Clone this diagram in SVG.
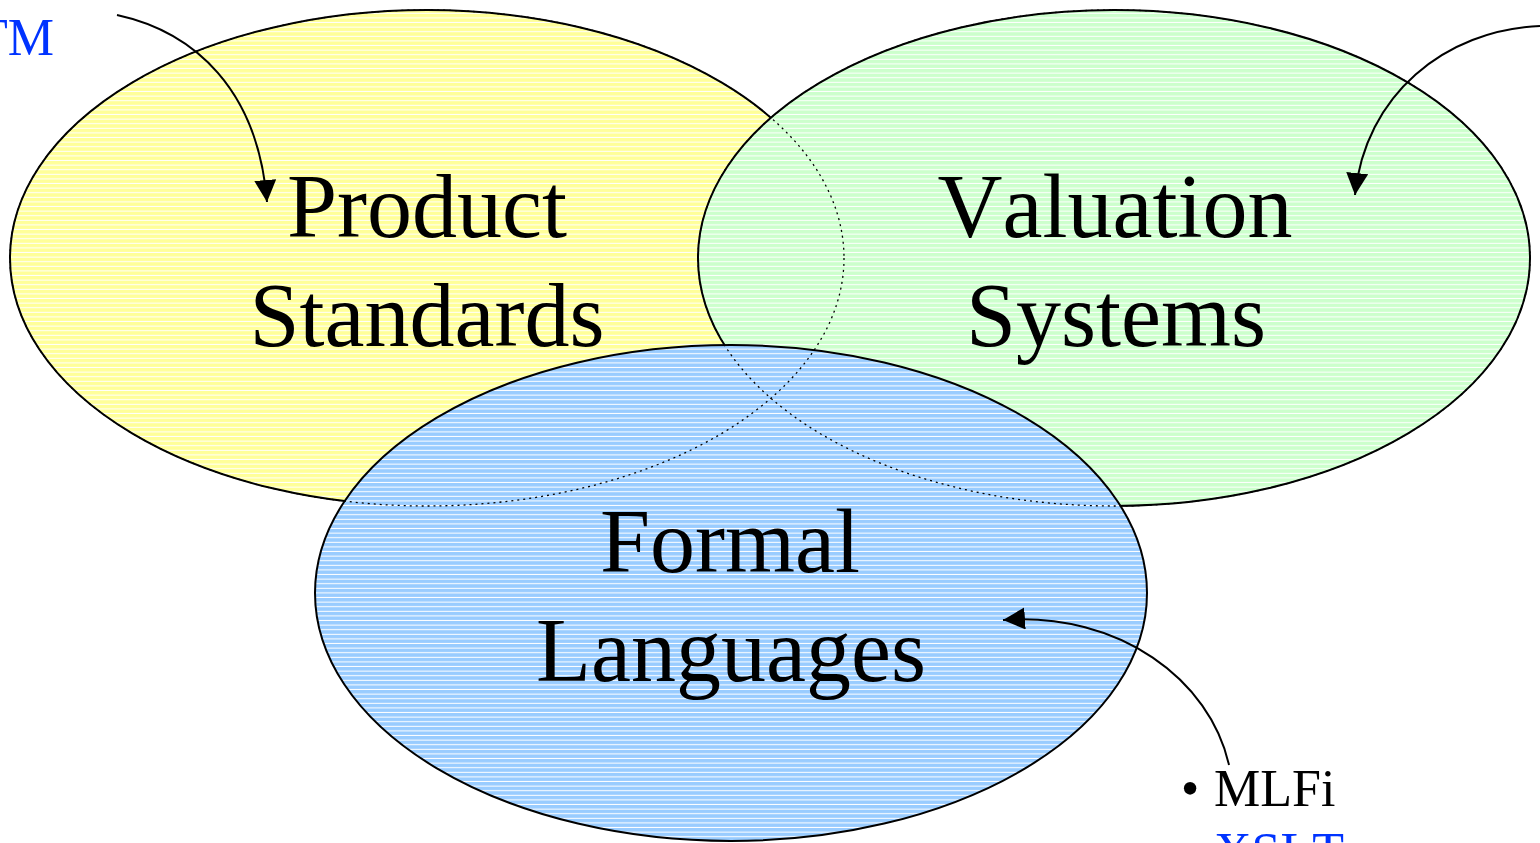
<svg xmlns="http://www.w3.org/2000/svg" width="1540" height="843" viewBox="0 0 1540 843">
  <defs>
    <!-- striped fills: solid colour with thin white horizontal lines -->
    <pattern id="hatch-yellow" patternUnits="userSpaceOnUse" width="20" height="4.6">
      <rect width="20" height="4.6" fill="#FFFF99"/>
      <rect y="3.6" width="20" height="1" fill="#FFFFFF"/>
    </pattern>
    <pattern id="hatch-green" patternUnits="userSpaceOnUse" width="20" height="4.6">
      <rect width="20" height="4.6" fill="#CCFFCC"/>
      <rect y="3.6" width="20" height="1" fill="#FFFFFF"/>
    </pattern>
    <pattern id="hatch-blue" patternUnits="userSpaceOnUse" width="20" height="4.6">
      <rect width="20" height="4.6" fill="#99CCFF"/>
      <rect y="3.6" width="20" height="1" fill="#FFFFFF"/>
    </pattern>
    <marker id="arrow" markerUnits="userSpaceOnUse" markerWidth="24" markerHeight="24" refX="22" refY="11" orient="auto">
      <path d="M0,0 L22,11 L0,22 Z" fill="#000"/>
    </marker>
    <style>
      .set { stroke: #000; stroke-width: 2; }
      .hidden-edge { fill: none; stroke: #000; stroke-width: 1.3; stroke-dasharray: 2 4; }
      text { font-kerning: none; }
      .label { font-family: "Liberation Serif", "Times New Roman", serif; font-size: 90px; fill: #000; text-anchor: middle; }
      .note { font-family: "Liberation Serif", "Times New Roman", serif; font-size: 52px; }
      .link { fill: none; stroke: #000; stroke-width: 2; marker-end: url(#arrow); }
    </style>
  </defs>

  <rect width="1540" height="843" fill="#FFFFFF"/>

  <g id="product-standards">
    <ellipse class="set" cx="427" cy="258" rx="417" ry="248" fill="url(#hatch-yellow)"/>
  </g>

  <g id="valuation-systems">
    <ellipse class="set" cx="1114" cy="258" rx="416" ry="248" fill="url(#hatch-green)"/>
  </g>

  <g id="formal-languages">
    <ellipse class="set" cx="731" cy="593" rx="416" ry="248" fill="url(#hatch-blue)"/>
  </g>

  <!-- outlines of the overlapped sets, shown through the sets drawn above them -->
  <g id="overlap-edges">
    <ellipse class="hidden-edge" cx="427" cy="258" rx="417" ry="248"/>
    <ellipse class="hidden-edge" cx="1114" cy="258" rx="416" ry="248"/>
  </g>

  <g id="labels">
    <text class="label" x="427" y="237">Product</text>
    <text class="label" x="427" y="346">Standards</text>
    <text class="label" x="1115" y="237">Valuation</text>
    <text class="label" x="1116" y="346">Systems</text>
    <text class="label" x="730" y="572">Formal</text>
    <text class="label" x="731" y="681">Languages</text>
  </g>

  <g id="notes">
    <text class="note" x="54" y="55" fill="#0033FF" text-anchor="end">TM</text>
    <text class="note" fill="#000"><tspan x="1181" y="806">•</tspan><tspan x="1214" y="806">MLFi</tspan></text>
    <text class="note" x="1214" y="869" fill="#0033FF">XSLT</text>
  </g>

  <g id="connectors">
    <path class="link" d="M117,15 C195,32 258,90 267,202"/>
    <path class="link" d="M1540,26 C1445,30 1365,95 1355,195"/>
    <path class="link" d="M1229,765 C1210,680 1120,612 1003,620"/>
  </g>
</svg>
